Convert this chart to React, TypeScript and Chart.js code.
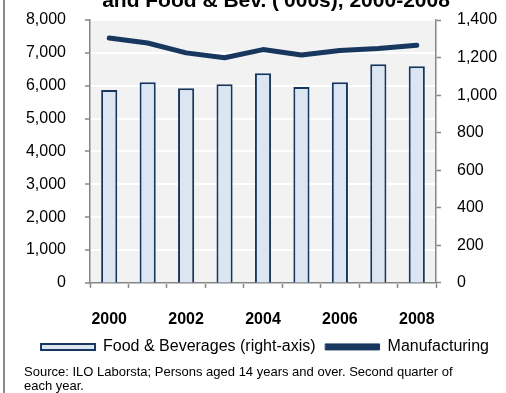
import React, { useEffect, useRef } from 'react';
import { Chart, registerables } from 'chart.js';

Chart.register(...registerables);

const years = ['2000', '2001', '2002', '2003', '2004', '2005', '2006', '2007', '2008'];
const manufacturing = [7450, 7300, 7000, 6850, 7100, 6935, 7075, 7135, 7230];
const foodBeverages = [1027, 1068, 1036, 1058, 1116, 1043, 1068, 1165, 1154];
const leftTicksMax = 8000;
const rightTicksMax = 1400;
const titleText = "and Food & Bev. ('000s), 2000-2008";
const sourceLines = [
  'Source: ILO Laborsta; Persons aged 14 years and over. Second quarter of',
  'each year.',
];

const FONT = '"Liberation Sans", Arial, sans-serif';
const NAVY = '#17375e';
const BAR_FILL = '#dce6f2';
const AXIS = '#868686';

const plotBg = {
  id: 'plotBg',
  beforeDraw(chart: any) {
    const { ctx, chartArea } = chart;
    if (!chartArea) return;
    ctx.save();
    ctx.fillStyle = '#f2f2f2';
    ctx.fillRect(chartArea.left, chartArea.top, chartArea.right - chartArea.left, chartArea.bottom - chartArea.top);
    ctx.restore();
  },
};

const fitY = (width: number) => (s: any) => {
  s.width = width;
  s.paddingTop = 10;
  s.paddingBottom = 10;
};

export default function App() {
  const ref = useRef<HTMLCanvasElement>(null);

  useEffect(() => {
    document.body.style.margin = '0';
    const chart = new Chart(ref.current as HTMLCanvasElement, {
      type: 'bar',
      data: {
        labels: years,
        datasets: [
          {
            type: 'bar',
            label: 'Food & Beverages (right-axis)',
            data: foodBeverages,
            yAxisID: 'y1',
            backgroundColor: BAR_FILL,
            borderColor: NAVY,
            borderWidth: 2,
            barPercentage: 0.42,
            categoryPercentage: 1,
          } as any,
          {
            type: 'line',
            label: 'Manufacturing',
            data: manufacturing,
            yAxisID: 'y',
            borderColor: NAVY,
            backgroundColor: NAVY,
            borderWidth: 5,
            borderCapStyle: 'round',
            borderJoinStyle: 'round',
            pointRadius: 0,
            tension: 0,
          } as any,
        ],
      },
      options: {
        responsive: false,
        devicePixelRatio: 1,
        animation: false,
        layout: { padding: { left: 24, right: 0, top: 20, bottom: 0 } },
        plugins: {
          tooltip: { enabled: false },
          title: { display: false },
          legend: {
            position: 'bottom',
            labels: {
              boxWidth: 54,
              boxHeight: 6,
              padding: 10,
              color: '#000',
              font: { size: 16, family: FONT },
              generateLabels: (c: any) => {
                const items = (Chart.defaults.plugins.legend.labels as any).generateLabels(c);
                items.forEach((it: any) => {
                  if (it.datasetIndex === 1) {
                    it.fillStyle = NAVY;
                    it.strokeStyle = NAVY;
                    it.lineWidth = 1;
                  } else {
                    it.lineWidth = 2;
                  }
                });
                return items;
              },
            },
          },
          subtitle: {
            display: true,
            position: 'bottom',
            align: 'start',
            text: sourceLines,
            color: '#000',
            font: { size: 13, family: FONT, lineHeight: 1.08 },
            padding: { top: 0, bottom: 0 },
          },
        },
        scales: {
          x: {
            offset: true,
            grid: {
              display: true,
              offset: true,
              drawOnChartArea: false,
              drawTicks: true,
              tickLength: 5,
              tickColor: AXIS,
              tickWidth: 1.5,
            },
            border: { display: true, color: AXIS, width: 1.5 },
            ticks: {
              autoSkip: false,
              maxRotation: 0,
              padding: 22,
              color: '#000',
              font: { size: 16, family: FONT, weight: 'bold' },
              callback: (_v: any, i: number) => (i % 2 === 0 ? years[i] : ''),
            },
            afterFit: (s: any) => { s.height = 46; },
          },
          y: {
            position: 'left',
            min: 0,
            max: leftTicksMax,
            ticks: {
              stepSize: 1000,
              padding: 19,
              color: '#000',
              font: { size: 16, family: FONT },
              callback: (v: any) => Number(v).toLocaleString('en-US'),
            },
            grid: {
              color: '#ffffff',
              lineWidth: 2,
              drawTicks: true,
              tickLength: 5,
              tickColor: AXIS,
              tickWidth: 1.5,
            },
            border: { display: true, color: AXIS, width: 1.5 },
            afterFit: fitY(66),
          },
          y1: {
            position: 'right',
            min: 0,
            max: rightTicksMax,
            ticks: {
              stepSize: 200,
              padding: 16,
              color: '#000',
              font: { size: 16, family: FONT },
              callback: (v: any) => Number(v).toLocaleString('en-US'),
            },
            grid: {
              drawOnChartArea: false,
              drawTicks: true,
              tickLength: 5,
              tickColor: AXIS,
              tickWidth: 1.5,
            },
            border: { display: true, color: AXIS, width: 1.5 },
            afterFit: fitY(70),
          },
        },
      } as any,
      plugins: [plotBg],
    });
    return () => chart.destroy();
  }, []);

  return (
    <div style={{ position: 'relative', width: 506, height: 393, overflow: 'hidden', background: '#fff' }}>
      <canvas ref={ref} width={506} height={393} style={{ display: 'block', width: 506, height: 393 }} />
      <div style={{ position: 'absolute', left: 3, top: 0, width: 2, height: 393, background: '#8a8a8a' }} />
      <div
        style={{
          position: 'absolute',
          top: -10,
          left: 276,
          transform: 'translateX(-50%)',
          whiteSpace: 'nowrap',
          font: `bold 21px ${FONT}`,
          lineHeight: '20px',
          color: '#000',
        }}
      >
        {titleText}
      </div>
    </div>
  );
}
